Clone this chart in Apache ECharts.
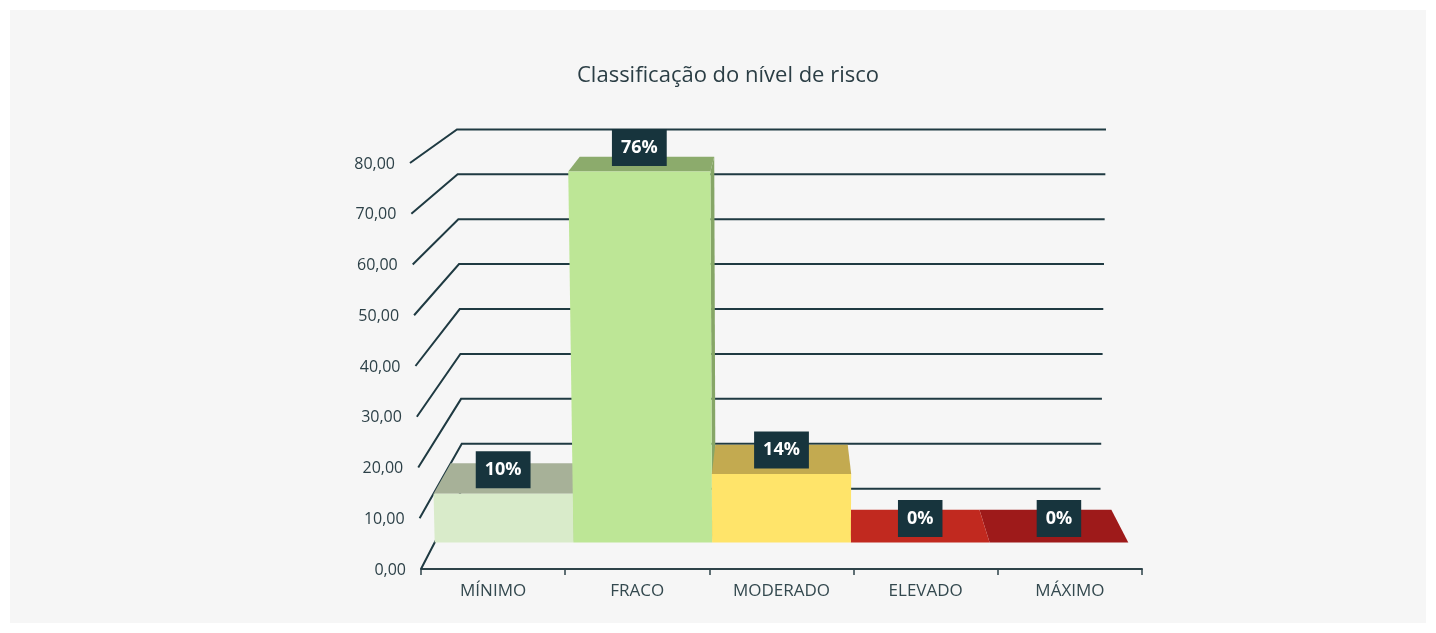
<!DOCTYPE html>
<html><head><meta charset="utf-8">
<script src="https://cdn.jsdelivr.net/npm/echarts@6.0.0/dist/echarts.min.js"></script>
<style>
html,body{margin:0;padding:0;background:#ffffff}
#c{width:1436px;height:633px;background:#f6f6f6;box-shadow:inset 0 0 0 10px #ffffff}
</style>
</head><body><div id="c"></div>
<script>
// ---- data ----
const chartTitle = 'Classificação do nível de risco';
const categories = ['MÍNIMO', 'FRACO', 'MODERADO', 'ELEVADO', 'MÁXIMO'];
const values = [10, 76, 14, 0, 0];
const yTicks = [0, 10, 20, 30, 40, 50, 60, 70, 80];

// ---- styles ----
const frontColors = ['#d9ebca', '#bde696', '#ffe46a', '#c1291f', '#9e1a1a'];
const topColors   = ['#a7b198', '#8cab6c', '#c3aa50', '#c1291f', '#9e1a1a'];
const sideColors  = ['#b9c9a8', '#86a667', '#c9b04c', '#a82219', '#8a1515'];
const gridColor = '#1f3a42';
const textColor = '#2d4148';
const FONT = '"Open Sans", "DejaVu Sans", sans-serif';

// perspective depths (1 = front plane of the axes)
const S_BAR_FRONT = 0.962, S_BAR_BACK = 0.915, S_WALL = 0.885;
const VY_FACTOR = 1.72;
function widen(s) { return 0.0172 + (s - 0.885) * 0.1165; }
const yMax = yTicks[yTicks.length - 1];

function geom(api) {
  const bw = api.size([1, 0])[0];
  const c0 = api.coord([0, 0]);
  const cN = api.coord([categories.length - 1, 0]);
  const top = api.coord([0, yMax]);
  const left = c0[0] - bw / 2, right = cN[0] + bw / 2;
  const y0 = c0[1], yt = top[1];
  return { bw, left, right, y0, yt, vx: (left + right) / 2, vy: y0 - VY_FACTOR * (y0 - yt) };
}
function proj(g, x, y, s) {
  const h = (g.y0 - y) / (g.y0 - g.yt);
  const xw = g.vx + (x - g.vx) * (1 + widen(s) * h);
  return [g.vx + (xw - g.vx) * s, g.vy + (y - g.vy) * s];
}
function fmt(v) { return v.toFixed(2).replace('.', ','); }

const chart = echarts.init(document.getElementById('c'), null, { renderer: 'canvas' });
chart.setOption({
  backgroundColor: 'transparent',
  animation: false,
  title: {
    text: chartTitle, left: 723, textAlign: 'center', top: 60,
    textStyle: { fontSize: 22, fontWeight: 'normal', color: '#2b3e45', fontFamily: FONT }
  },
  grid: { left: 421, right: 294, top: 163, bottom: 64, containLabel: false },
  xAxis: {
    type: 'category', data: categories,
    axisLine: { show: true, lineStyle: { color: '#2e4349', width: 2 } },
    axisTick: { show: true, alignWithLabel: false, length: 6, lineStyle: { color: '#2e4349', width: 1.5 } },
    axisLabel: { color: '#34494f', fontSize: 17, margin: 14, fontFamily: FONT },
    splitLine: { show: false }
  },
  yAxis: {
    type: 'value', min: 0, max: yMax, interval: 10,
    axisLine: { show: false }, axisTick: { show: false },
    axisLabel: { show: false }, splitLine: { show: false }
  },
  series: [
    {
      type: 'custom', z: 1, clip: false, silent: true,
      data: yTicks.map(v => [0, v]),
      renderItem: function (params, api) {
        const g = geom(api);
        const v = api.value(1);
        const y = api.coord([0, v])[1];
        const a = proj(g, g.left, y, 1);
        const b = proj(g, g.left, y, S_WALL);
        const c = proj(g, g.right, y, S_WALL);
        return {
          type: 'group', children: [
            { type: 'polyline', shape: { points: [a, b, c] },
              style: { stroke: gridColor, lineWidth: 2, fill: null } },
            { type: 'text', x: a[0] - 15, y: a[1] + 1,
              style: { text: fmt(v), align: 'right', verticalAlign: 'middle',
                       fill: textColor, fontSize: 16, fontFamily: FONT } }
          ]
        };
      }
    },
    {
      type: 'custom', z: 2, clip: false, silent: true,
      data: values.map((v, i) => [i, v]),
      renderItem: function (params, api) {
        const g = geom(api);
        const i = params.dataIndex;
        const v = api.value(1);
        const c = api.coord([i, v]);
        const base = api.coord([i, 0]);
        const xl = c[0] - g.bw / 2, xr = c[0] + g.bw / 2;
        const yt = c[1], yb = base[1];
        const fTL = proj(g, xl, yt, S_BAR_FRONT), fTR = proj(g, xr, yt, S_BAR_FRONT);
        const fBR = proj(g, xr, yb, S_BAR_FRONT), fBL = proj(g, xl, yb, S_BAR_FRONT);
        const bTL = proj(g, xl, yt, S_BAR_BACK), bTR = proj(g, xr, yt, S_BAR_BACK);
        const bBR = proj(g, xr, yb, S_BAR_BACK), bBL = proj(g, xl, yb, S_BAR_BACK);
        const dist = Math.abs(c[0] - g.vx);
        const zb = 2000 - Math.round(dist) * 4;
        const children = [];
        if (xr < g.vx) {
          children.push({ type: 'polygon', z2: zb, shape: { points: [fTR, bTR, bBR, fBR] },
            style: { fill: sideColors[i] } });
        } else if (xl > g.vx) {
          children.push({ type: 'polygon', z2: zb, shape: { points: [bTL, fTL, fBL, bBL] },
            style: { fill: sideColors[i] } });
        }
        children.push({ type: 'polygon', z2: zb + 1, shape: { points: [bTL, bTR, fTR, fTL] },
          style: { fill: topColors[i] } });
        children.push({ type: 'polygon', z2: zb + 2, shape: { points: [fTL, fTR, fBR, fBL] },
          style: { fill: frontColors[i] } });
        children.push({ type: 'text', z2: 5000, x: (fTL[0] + fTR[0]) / 2, y: fTL[1] - 24,
          style: { text: v + '%', align: 'center', verticalAlign: 'middle',
                   fill: '#ffffff', fontSize: 18, fontWeight: 'bold', fontFamily: FONT,
                   backgroundColor: '#17343d', padding: [9, 9, 9, 9], lineHeight: 19 } });
        return { type: 'group', children };
      }
    }
  ]
});
</script>
</body></html>
